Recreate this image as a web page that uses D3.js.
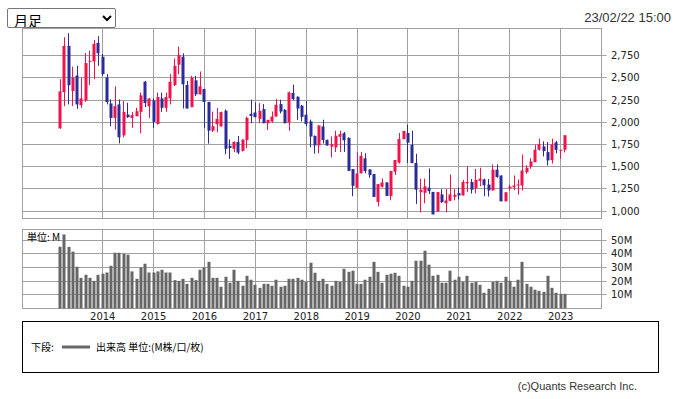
<!DOCTYPE html>
<html>
<head>
<meta charset="utf-8">
<script src="https://cdn.jsdelivr.net/npm/d3@7/dist/d3.min.js"></script>
<style>
  body { margin: 0; background: #fff; }
  #wrap { position: relative; width: 677px; height: 399px; overflow: hidden; }
  #chart { position: absolute; left: 0; top: 0; }
  #period {
    position: absolute; left: 7px; top: 8px; width: 109px; height: 20px;
    font: 14px "Noto Sans CJK JP", sans-serif; border: 1px solid #767676;
    border-radius: 2px; background: #fff; padding: 0 2px;
  }
</style>
</head>
<body>
<div id="wrap">
  <svg id="chart" width="677" height="399"></svg>
  <select id="period"><option>月足</option></select>
</div>
<script>
// monthly candles, Mar 2013 .. Feb 2023
const firstMonth = [2013, 2]; // year, month index (0 = Jan)

const opens = [
  1932, 2341, 2860, 2352, 2526, 2193, 2246, 2682, 2686, 2894,
  2739, 2504, 2212, 2049, 2201, 1852, 2087, 2049, 2068, 2117, 2458, 2182,
  2246, 1981, 2269, 2163, 2269, 2420, 2648, 2739, 2420, 2170, 2473, 2314,
  2375, 2229, 1905, 1978, 1953, 2130, 1735, 1701, 1778, 1678, 1799, 2095,
  2110, 2038, 2148, 1989, 2008, 2064, 2205, 2140, 1996, 2330, 2288, 2187,
  2085, 2010, 1847, 1739, 1953, 1801, 1725, 1716, 1836, 1876, 1825, 1473,
  1261, 1424, 1594, 1469, 1416, 1102, 1273, 1322, 1170, 1443, 1545, 1810,
  1879, 1746, 1540, 1213, 1205, 1263, 1215, 995, 1187, 1088, 1115, 1160,
  1202, 1175, 1312, 1326, 1255, 1340, 1356, 1298, 1232, 1466, 1400, 1109,
  1256, 1268, 1287, 1287, 1438, 1502, 1551, 1690, 1728, 1664, 1573, 1773,
  1683, 1690
];
const highs = [
  2485, 2958, 3004, 2625, 2636, 2504, 2780, 2807, 2928, 2970,
  2769, 2542, 2258, 2405, 2258, 2239, 2220, 2117, 2163, 2334, 2466, 2269,
  2269, 2334, 2334, 2334, 2542, 2720, 2852, 2777, 2466, 2523, 2523, 2572,
  2375, 2229, 2120, 2160, 2120, 2144, 1807, 1784, 1845, 1807, 2064, 2254,
  2224, 2216, 2205, 2027, 2121, 2261, 2254, 2148, 2345, 2424, 2292, 2195,
  2239, 2030, 1850, 1966, 2028, 1805, 1841, 1905, 1905, 1890, 1830, 1473,
  1666, 1666, 1651, 1469, 1416, 1303, 1367, 1322, 1450, 1575, 1879, 1902,
  1973, 1905, 1645, 1365, 1365, 1480, 1215, 1213, 1246, 1246, 1411, 1246,
  1265, 1351, 1505, 1360, 1475, 1488, 1365, 1360, 1524, 1524, 1400, 1211,
  1298, 1400, 1355, 1637, 1515, 1595, 1747, 1815, 1785, 1777, 1815, 1790,
  1690, 1855
];
const lows = [
  1925, 2182, 2201, 2182, 2151, 2163, 2231, 2420, 2485, 2636,
  2523, 2201, 1955, 1917, 1761, 1830, 2049, 1936, 2068, 1875, 2170, 2049,
  1936, 1974, 2117, 2117, 2201, 2409, 2542, 2155, 2155, 2170, 2296, 2314,
  1936, 1760, 1890, 1886, 1953, 1640, 1587, 1663, 1640, 1670, 1708, 1989,
  2057, 1989, 1989, 1913, 1995, 2064, 2100, 1989, 1905, 2250, 2027, 2011,
  1955, 1718, 1645, 1650, 1760, 1735, 1604, 1665, 1665, 1665, 1450, 1166,
  1255, 1424, 1424, 1375, 1159, 1052, 1265, 1170, 1121, 1405, 1535, 1810,
  1540, 1540, 1080, 985, 1086, 1192, 962, 995, 1090, 985, 1110, 1120,
  1130, 1175, 1215, 1197, 1200, 1280, 1166, 1162, 1230, 1375, 1109, 1109,
  1230, 1237, 1185, 1230, 1420, 1475, 1551, 1680, 1615, 1513, 1535, 1650,
  1588, 1660
];
const closes = [
  2348, 2860, 2417, 2504, 2201, 2269, 2667, 2693, 2883, 2777,
  2542, 2227, 2049, 2182, 1830, 2117, 2057, 2080, 2125, 2303, 2216, 2269,
  2004, 2284, 2163, 2284, 2458, 2636, 2758, 2428, 2155, 2504, 2314, 2405,
  2229, 1905, 1956, 2038, 2115, 1701, 1710, 1778, 1658, 1805, 2049, 2072,
  2057, 2129, 1989, 2027, 2064, 2197, 2121, 1989, 2337, 2261, 2155, 2060,
  1979, 1839, 1739, 1964, 1801, 1739, 1752, 1848, 1867, 1797, 1452, 1284,
  1424, 1621, 1450, 1405, 1159, 1303, 1322, 1170, 1450, 1575, 1810, 1902,
  1770, 1540, 1240, 1240, 1278, 1223, 962, 1213, 1100, 1119, 1187, 1183,
  1175, 1326, 1326, 1240, 1350, 1365, 1290, 1232, 1466, 1383, 1109, 1211,
  1275, 1287, 1298, 1456, 1487, 1558, 1690, 1751, 1675, 1570, 1751, 1690,
  1690, 1853
];
// volume, millions
const volumes = [
  45.1, 54.1, 45.0, 41.5, 30.5, 22.4, 24.6, 22.4, 20.2, 24.6,
  25.4, 26.3, 31.2, 40.7, 40.7, 40.0, 39.3, 27.1, 21.7, 30.0, 32.7, 26.3,
  26.3, 27.1, 28.3, 26.3, 26.3, 20.7, 20.2, 21.7, 18.0, 22.4, 20.7, 28.3,
  30.0, 34.1, 22.4, 22.4, 15.9, 23.2, 18.8, 28.3, 20.2, 16.6, 23.9, 21.0,
  17.3, 15.1, 18.0, 18.0, 16.6, 21.0, 15.9, 16.6, 21.7, 21.7, 22.4, 21.0,
  19.5, 33.4, 26.1, 20.2, 21.7, 18.0, 16.6, 20.2, 19.5, 29.0, 26.8, 27.6,
  18.0, 18.0, 21.0, 23.2, 34.1, 26.8, 18.8, 24.6, 25.4, 26.1, 23.9, 16.6,
  15.9, 20.2, 34.9, 34.9, 42.2, 32.0, 23.9, 24.6, 18.8, 18.8, 27.6, 21.0,
  23.2, 19.5, 23.9, 18.8, 19.5, 17.3, 11.5, 14.4, 19.5, 20.2, 18.8, 23.2,
  20.2, 15.9, 21.0, 34.1, 18.0, 15.9, 13.7, 12.9, 12.2, 23.9, 15.1, 11.5,
  10.7, 10.7
];

const priceTicks = [1000, 1250, 1500, 1750, 2000, 2250, 2500, 2750];
const volumeTicks = [10, 20, 30, 40, 50];
const yearTicks = [2014, 2015, 2016, 2017, 2018, 2019, 2020, 2021, 2022, 2023];

const stamp = "23/02/22 15:00";
const volumeUnit = "単位: M";
const legendLabel = "下段:";
const legendText = "出来高 単位:(M株/口/枚)";
const credit = "(c)Quants Research Inc.";

const candles = opens.map((o, i) => ({
  date: new Date(Date.UTC(firstMonth[0], firstMonth[1] + i, 1)),
  open: o, high: highs[i], low: lows[i], close: closes[i], volume: volumes[i]
}));

const upColor = "#f0124b", downColor = "#2b2b99", gridColor = "#a0a0a0";
const axisFont = "DejaVu Sans, sans-serif";
const cjkFont = "'Noto Sans CJK JP', sans-serif";

const left = 22.5, right = 601.5;
const main = { top: 28.5, bottom: 218.5 };
const vol = { top: 229.5, bottom: 308.5 };

const svg = d3.select("#chart");

const x = d3.scaleUtc()
  .domain([new Date(Date.UTC(2012, 5, 4)), new Date(Date.UTC(2023, 9, 21))])
  .range([left, right]);
const yPrice = d3.scaleLinear().domain([915.5, 3056.5]).range([main.bottom, main.top]);
const yVol = d3.scaleLinear().domain([0, 57.7]).range([vol.bottom, vol.top]);

const snap = v => Math.round(v - 0.5) + 0.5;

// panels: frame + grid
function drawPanel(box, yScale, ticks, fmt) {
  const g = svg.append("g");
  g.selectAll(".hgrid")
    .data(ticks)
    .enter()
    .append("line")
    .attr("x1", left).attr("x2", right + 5)
    .attr("y1", d => snap(yScale(d))).attr("y2", d => snap(yScale(d)))
    .attr("stroke", gridColor);
  g.selectAll(".vgrid")
    .data(yearTicks)
    .enter()
    .append("line")
    .attr("x1", d => snap(x(new Date(Date.UTC(d, 0, 1)))))
    .attr("x2", d => snap(x(new Date(Date.UTC(d, 0, 1)))))
    .attr("y1", box.top).attr("y2", box.bottom)
    .attr("stroke", gridColor);
  g.append("rect")
    .attr("x", left).attr("y", box.top)
    .attr("width", right - left).attr("height", box.bottom - box.top)
    .attr("fill", "none").attr("stroke", gridColor);
  g.selectAll(".ylab")
    .data(ticks)
    .enter()
    .append("text")
    .attr("x", 611)
    .attr("y", d => yScale(d))
    .attr("dy", "0.36em")
    .style("font-family", axisFont)
    .style("font-size", "10px")
    .attr("fill", "#222")
    .text(fmt);
  return g;
}

drawPanel(main, yPrice, priceTicks, d3.format(","));
const volPanel = drawPanel(vol, yVol, volumeTicks, d => d + "M");

// candles
const bodyW = 3;
svg.append("g")
  .selectAll("line")
  .data(candles)
  .enter()
  .append("line")
  .attr("x1", d => snap(x(d.date))).attr("x2", d => snap(x(d.date)))
  .attr("y1", d => yPrice(d.high)).attr("y2", d => yPrice(d.low))
  .attr("stroke", d => d.close >= d.open ? upColor : downColor);

svg.append("g")
  .selectAll("rect")
  .data(candles)
  .enter()
  .append("rect")
  .attr("x", d => Math.round(x(d.date)) - 1.5 - 0.5 + 0.5)
  .attr("y", d => yPrice(Math.max(d.open, d.close)))
  .attr("width", bodyW)
  .attr("height", d => Math.max(1, Math.abs(yPrice(d.open) - yPrice(d.close))))
  .attr("fill", d => d.close >= d.open ? upColor : downColor);

// volume bars
svg.append("g")
  .selectAll("rect")
  .data(candles)
  .enter()
  .append("rect")
  .attr("x", d => Math.round(x(d.date)) - 1.5)
  .attr("y", d => yVol(d.volume))
  .attr("width", bodyW)
  .attr("height", d => yVol(0) - yVol(d.volume))
  .attr("fill", "#666");

svg.append("text")
  .attr("x", 27).attr("y", 241)
  .style("font-family", cjkFont).style("font-size", "10px")
  .attr("fill", "#000")
  .text(volumeUnit);

// year labels
svg.append("g")
  .selectAll("text")
  .data(yearTicks)
  .enter()
  .append("text")
  .attr("x", d => x(new Date(Date.UTC(d, 0, 1))))
  .attr("y", 320)
  .attr("text-anchor", "middle")
  .style("font-family", axisFont).style("font-size", "10px")
  .attr("fill", "#222")
  .text(d => d);

// time stamp
svg.append("text")
  .attr("x", 671).attr("y", 22)
  .attr("text-anchor", "end")
  .style("font-family", "Liberation Sans, Arial, sans-serif").style("font-size", "13px")
  .attr("fill", "#333")
  .text(stamp);

// legend
const lg = svg.append("g");
lg.append("rect")
  .attr("x", 22.5).attr("y", 321.5).attr("width", 636).attr("height", 51)
  .attr("fill", "none").attr("stroke", "#000");
lg.append("text")
  .attr("x", 31).attr("y", 351)
  .style("font-family", cjkFont).style("font-size", "10px")
  .text(legendLabel);
lg.append("line")
  .attr("x1", 62).attr("x2", 90).attr("y1", 347).attr("y2", 347)
  .attr("stroke", "#666").attr("stroke-width", 3);
lg.append("text")
  .attr("x", 96).attr("y", 351)
  .style("font-family", cjkFont).style("font-size", "10px")
  .text(legendText);

svg.append("text")
  .attr("x", 637).attr("y", 390)
  .attr("text-anchor", "end")
  .style("font-family", "Liberation Sans, Arial, sans-serif").style("font-size", "11px")
  .attr("fill", "#333")
  .text(credit);
</script>
</body>
</html>
